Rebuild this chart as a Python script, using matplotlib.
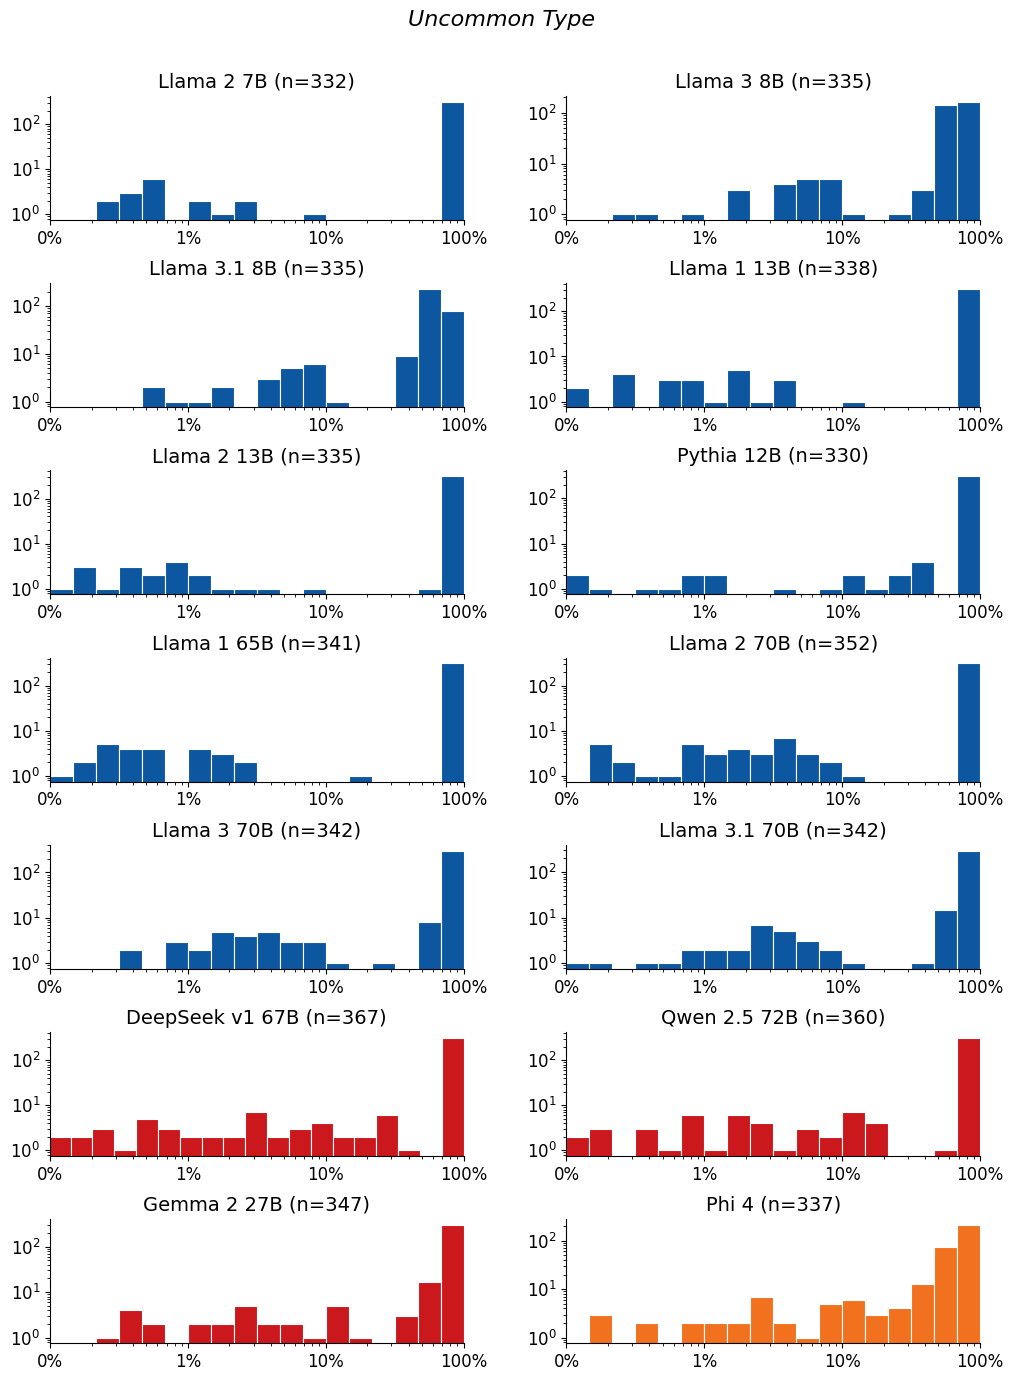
import numpy as np
import matplotlib
matplotlib.use("Agg")
import matplotlib.pyplot as plt
from matplotlib.ticker import FixedLocator, FixedFormatter, NullFormatter, LogLocator

suptitle = "Uncommon Type"
titles = ["Llama 2 7B (n=332)", "Llama 3 8B (n=335)",
          "Llama 3.1 8B (n=335)", "Llama 1 13B (n=338)",
          "Llama 2 13B (n=335)", "Pythia 12B (n=330)",
          "Llama 1 65B (n=341)", "Llama 2 70B (n=352)",
          "Llama 3 70B (n=342)", "Llama 3.1 70B (n=342)",
          "DeepSeek v1 67B (n=367)", "Qwen 2.5 72B (n=360)",
          "Gemma 2 27B (n=347)", "Phi 4 (n=337)"]

# counts per log-spaced bin (from 0.1% to 100%)
llama2_7b = [0, 0, 2, 3, 6, 0, 2, 1, 2, 0, 0, 1, 0, 0, 0, 0, 0, 315]
llama3_8b = [0, 0, 1, 1, 0, 1, 0, 3, 0, 4, 5, 5, 1, 0, 1, 3, 145, 165]
llama31_8b = [0, 0, 0, 0, 2, 1, 1, 2, 0, 3, 5, 6, 1, 0, 0, 9, 228, 77]
llama1_13b = [2, 0, 4, 0, 3, 3, 1, 5, 1, 3, 0, 0, 1, 0, 0, 0, 0, 315]
llama2_13b = [1, 3, 1, 3, 2, 4, 2, 1, 1, 1, 0, 1, 0, 0, 0, 0, 1, 314]
pythia_12b = [2, 1, 0, 1, 1, 2, 2, 0, 0, 1, 0, 1, 2, 1, 2, 4, 0, 310]
llama1_65b = [1, 2, 5, 4, 4, 0, 4, 3, 2, 0, 0, 0, 0, 1, 0, 0, 0, 315]
llama2_70b = [0, 5, 2, 1, 1, 5, 3, 4, 3, 7, 3, 2, 1, 0, 0, 0, 0, 315]
llama3_70b = [0, 0, 0, 2, 0, 3, 2, 5, 4, 5, 3, 3, 1, 0, 1, 0, 8, 305]
llama31_70b = [1, 1, 0, 1, 1, 2, 2, 2, 7, 5, 3, 2, 1, 0, 0, 1, 15, 298]
deepseek_67b = [2, 2, 3, 1, 5, 3, 2, 2, 2, 7, 2, 3, 4, 2, 2, 6, 1, 0, 318]
qwen25_72b = [2, 3, 0, 3, 1, 6, 1, 6, 4, 1, 3, 2, 7, 4, 0, 0, 1, 316]
gemma2_27b = [0, 0, 1, 4, 2, 0, 2, 2, 5, 2, 2, 1, 5, 1, 0, 3, 17, 300]
phi4 = [0, 3, 0, 2, 0, 2, 2, 2, 7, 2, 1, 5, 6, 3, 4, 13, 73, 212]

all_counts = [llama2_7b, llama3_8b, llama31_8b, llama1_13b, llama2_13b,
              pythia_12b, llama1_65b, llama2_70b, llama3_70b, llama31_70b,
              deepseek_67b, qwen25_72b, gemma2_27b, phi4]

# log10 of the lowest bin edge for each panel (upper edge is 100%)
bin_start_log = [-3, -3, -3, -3, -3, -3, -3, -3, -3, -3, -3.009, -3, -3, -3]

blue = "#0d57a1"
red = "#cb181d"
orange = "#f1711f"
colors = [blue] * 10 + [red, red, red, orange]

xtick_values = [0.001, 0.01, 0.1, 1.0]
xtick_labels = ["0%", "1%", "10%", "100%"]

fig, axes = plt.subplots(7, 2, figsize=(10.13, 13.78), dpi=100)
fig.subplots_adjust(left=0.0494, right=0.9674, top=0.9303, bottom=0.0252,
                    wspace=0.249, hspace=0.51)

for ax, title, counts, start, color in zip(axes.flat, titles, all_counts,
                                           bin_start_log, colors):
    counts = np.asarray(counts, dtype=float)
    edges = np.logspace(start, 0, len(counts) + 1)
    ax.bar(edges[:-1], counts, width=np.diff(edges), align="edge",
           color=color, edgecolor="white", linewidth=0.8)
    ax.set_xscale("log")
    ax.set_yscale("log")
    ax.set_xlim(1e-3, 1.0)
    ax.xaxis.set_major_locator(FixedLocator(xtick_values))
    ax.xaxis.set_major_formatter(FixedFormatter(xtick_labels))
    ax.xaxis.set_minor_locator(LogLocator(base=10, subs=np.arange(2, 10)))
    ax.xaxis.set_minor_formatter(NullFormatter())
    ax.yaxis.set_minor_formatter(NullFormatter())
    ax.tick_params(axis="both", which="major", labelsize=12)
    ax.set_title(title, fontsize=14)
    ax.spines["top"].set_visible(False)
    ax.spines["right"].set_visible(False)

fig.suptitle(suptitle, fontsize=16, fontstyle="italic", x=0.495, y=0.993)
fig.savefig("out.png", dpi=100)
